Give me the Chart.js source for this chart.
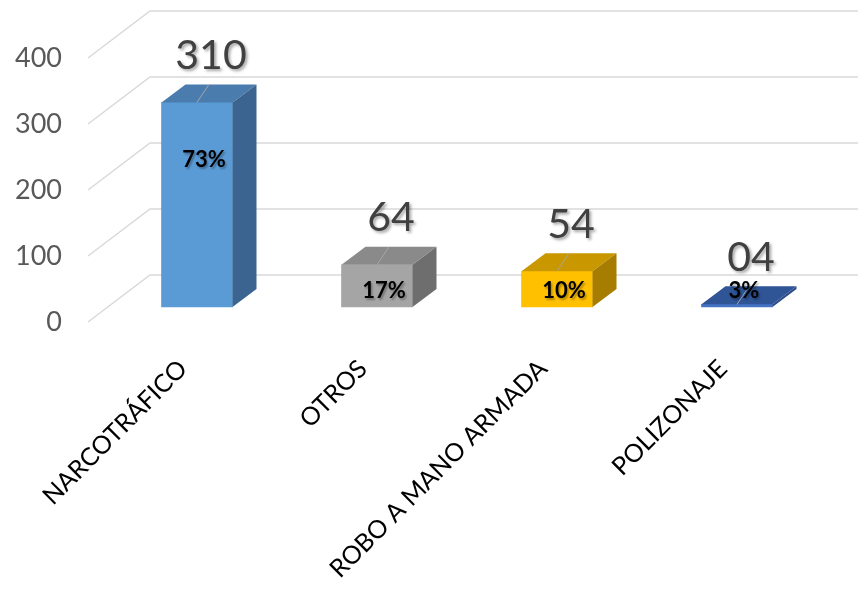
<!DOCTYPE html>
<html>
<head>
<meta charset="utf-8">
<script src="https://cdn.jsdelivr.net/npm/chart.js@4"></script>
<style>
  html, body { margin: 0; background: #fff; }
  #wrap { width: 858px; height: 591px; }
</style>
</head>
<body>
<div id="wrap"><canvas id="chart"></canvas></div>
<script>
const categories = ["NARCOTRÁFICO", "OTROS", "ROBO A MANO ARMADA", "POLIZONAJE"];
const values = [310, 64, 54, 4];
const valueLabels = ["310", "64", "54", "04"];
const percentLabels = ["73%", "17%", "10%", "3%"];
const yTicks = [0, 100, 200, 300, 400];

const frontColors = ["#5B9BD5", "#A5A5A5", "#FFC000", "#4472C4"];
const topColors = ["#4A7CAE", "#8A8A8A", "#C99700", "#2F5597"];
const sideColors = ["#3B6590", "#6E6E6E", "#A67D00", "#2B4C87"];

// fake 3d: depth of each box, shift of the bars behind the front edge, depth of the wall
const barDepth = { dx: 24, dy: -18 };
const barShift = { dx: 19, dy: -15 };
const wallDepth = { dx: 62, dy: -47 };

const threeD = {
    id: "threeD",
    beforeDatasetsDraw(chart) {
        const ctx = chart.ctx;
        const y = chart.scales.y;
        const left = chart.chartArea.left;
        ctx.save();
        ctx.strokeStyle = "#D9D9D9";
        ctx.lineWidth = 1.5;
        yTicks.forEach(v => {
            const py = y.getPixelForValue(v);
            ctx.beginPath();
            ctx.moveTo(left, py);
            ctx.lineTo(left + wallDepth.dx, py + wallDepth.dy);
            ctx.lineTo(chart.width, py + wallDepth.dy);
            ctx.stroke();
        });
        ctx.restore();
        ctx.save();
        ctx.translate(barShift.dx, barShift.dy);
    },
    afterDatasetsDraw(chart) {
        const ctx = chart.ctx;
        const bars = chart.getDatasetMeta(0).data;
        bars.forEach((bar, i) => {
            const p = bar.getProps(["x", "y", "base", "width"], true);
            const l = p.x - p.width / 2, r = p.x + p.width / 2;
            const dx = barDepth.dx, dy = barDepth.dy;
            // top face
            ctx.fillStyle = topColors[i];
            ctx.beginPath();
            ctx.moveTo(l, p.y);
            ctx.lineTo(l + dx, p.y + dy);
            ctx.lineTo(r + dx, p.y + dy);
            ctx.lineTo(r, p.y);
            ctx.closePath();
            ctx.fill();
            // side face
            ctx.fillStyle = sideColors[i];
            ctx.beginPath();
            ctx.moveTo(r, p.y);
            ctx.lineTo(r + dx, p.y + dy);
            ctx.lineTo(r + dx, p.base + dy);
            ctx.lineTo(r, p.base);
            ctx.closePath();
            ctx.fill();

            // leader line
            ctx.strokeStyle = "#A6A6A6";
            ctx.lineWidth = 1;
            ctx.beginPath();
            ctx.moveTo(p.x, p.y);
            ctx.lineTo(p.x + 12, p.y - 18);
            ctx.stroke();

            // value label
            ctx.save();
            ctx.shadowColor = "rgba(0,0,0,0.35)";
            ctx.shadowOffsetX = 2;
            ctx.shadowOffsetY = 2;
            ctx.shadowBlur = 3;
            ctx.fillStyle = "#404040";
            ctx.font = "41px Lato";
            ctx.textAlign = "center";
            ctx.textBaseline = "middle";
            ctx.fillText(valueLabels[i], p.x + 14, p.y - 47);
            ctx.restore();

            // percent label
            ctx.save();
            ctx.shadowColor = "rgba(0,0,0,0.3)";
            ctx.shadowOffsetX = 1.5;
            ctx.shadowOffsetY = 1.5;
            ctx.shadowBlur = 2;
            ctx.fillStyle = "#000";
            ctx.font = "bold 22px Lato";
            ctx.textAlign = "center";
            ctx.textBaseline = "middle";
            ctx.fillText(percentLabels[i], p.x + 7, Math.min(p.y + 58, p.base - 16));
            ctx.restore();
        });
        ctx.restore();
    }
};

new Chart(document.getElementById("chart"), {
    type: "bar",
    data: {
        labels: categories,
        datasets: [{
            data: values,
            backgroundColor: frontColors,
            borderWidth: 0,
            barThickness: 71,
            clip: false
        }]
    },
    options: {
        responsive: true,
        maintainAspectRatio: false,
        animation: false,
        layout: { padding: { top: 58, right: 50, left: 0, bottom: 0 } },
        plugins: { legend: { display: false }, tooltip: { enabled: false } },
        scales: {
            x: {
                offset: true,
                grid: { display: false },
                border: { display: false },
                afterFit: s => { s.height = 269; },
                ticks: {
                    autoSkip: false,
                    minRotation: 45,
                    maxRotation: 45,
                    padding: 24,
                    labelOffset: 5,
                    color: "#000",
                    font: { family: "Lato", size: 25 }
                }
            },
            y: {
                min: 0,
                max: 400,
                grid: { display: false },
                border: { display: false },
                afterFit: s => { s.width = 88; },
                ticks: {
                    stepSize: 100,
                    padding: 18,
                    color: "#595959",
                    font: { family: "Lato", size: 27 }
                }
            }
        }
    },
    plugins: [threeD]
});
</script>
</body>
</html>
